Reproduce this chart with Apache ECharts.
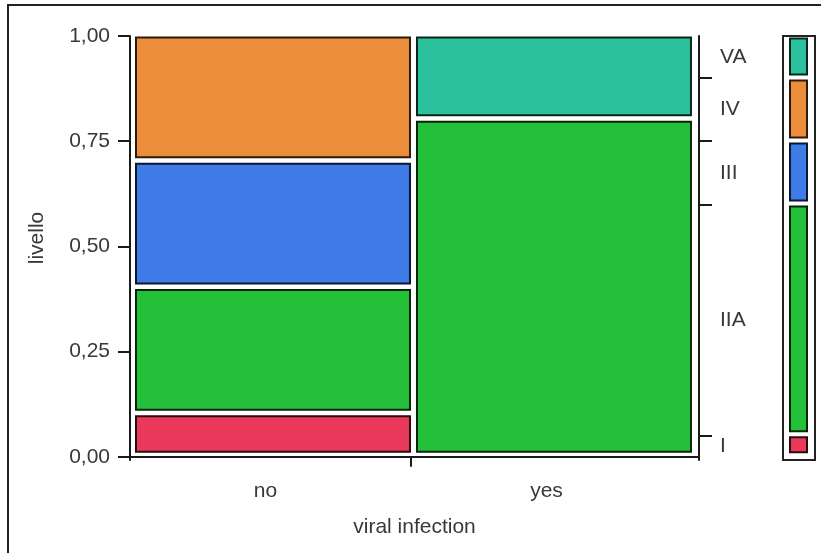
<!DOCTYPE html>
<html><head><meta charset="utf-8">
<script src="https://cdn.jsdelivr.net/npm/echarts@6/dist/echarts.min.js"></script>
<style>html,body{margin:0;padding:0;background:#fff}#c{width:821px;height:553px}</style>
</head><body><div id="c"></div>
<script>
// ---- data ----
const categories = ['no', 'yes'];
const levels = ['I', 'IIA', 'III', 'IV', 'VA'];
const groupShare = [0.5, 0.5];
const noShares = [0.10, 0.30, 0.30, 0.30, 0.00];
const yesShares = [0.00, 0.80, 0.00, 0.00, 0.20];
const yTicks = [0, 0.25, 0.5, 0.75, 1];
const xAxisTitle = 'viral infection';
const yAxisTitle = 'livello';

// ---- styles ----
const levelColors = ['#EA3A5C', '#25C03A', '#3E7BE6', '#EC8D3B', '#2BC29D'];
const levelBorders = ['#2a0a10', '#06240a', '#0a172c', '#2d1a0b', '#08251d'];
const FONT = "'Liberation Sans', Arial, sans-serif";
const TXT = '#383838';
const LINE = '#1a1a1a';
const FS = 21;

// ---- derived ----
const shares = [noShares, yesShares];
const cells = [];
const xCenters = [];
let xs = 0;
categories.forEach((c, ci) => {
  const x0 = xs, x1 = xs + groupShare[ci];
  xCenters.push((x0 + x1) / 2);
  let ys = 0;
  shares[ci].forEach((s, li) => {
    if (s > 0) cells.push([x0, x1, ys, ys + s, li]);
    ys += s;
  });
  xs = x1;
});
const xDividers = [];
{ let a = 0; groupShare.slice(0, -1).forEach(g => { a += g; xDividers.push(a); }); }
const marginal = levels.map((_, li) => categories.reduce((a, _c, ci) => a + groupShare[ci] * shares[ci][li], 0));
const cum = []; { let acc = 0; marginal.forEach(m => { cum.push([acc, acc + m]); acc += m; }); }
const legendCells = cum.map((r, li) => [0, 1, r[0], r[1], li]);
const rightTicks = cum.slice(0, -1).map(r => r[1]);
const rightLabelPos = cum.map(r => (r[0] + r[1]) / 2);

function nearestIdx(arr, v) {
  let bi = 0, bd = Infinity;
  arr.forEach((a, i) => { const d = Math.abs(a - v); if (d < bd) { bd = d; bi = i; } });
  return bi;
}

function makeRender(xLow, xHigh, yLow, yHigh) {
  return function (params, api) {
    const p0 = api.coord([api.value(0), api.value(2)]);
    const p1 = api.coord([api.value(1), api.value(3)]);
    const li = api.value(4);
    const x = p0[0] + xLow, xr = p1[0] - xHigh;
    const yt = p1[1] + yHigh, yb = p0[1] - yLow;
    return {
      type: 'rect',
      shape: { x: x, y: yt, width: xr - x, height: yb - yt },
      style: { fill: levelColors[li], stroke: levelBorders[li], lineWidth: 2 }
    };
  };
}

const chart = echarts.init(document.getElementById('c'), null, { renderer: 'canvas' });
chart.setOption({
  animation: false,
  backgroundColor: '#fff',
  textStyle: { fontFamily: FONT },
  graphic: [{
    type: 'rect', silent: true, z: -10,
    shape: { x: 8, y: 5, width: 900, height: 700 },
    style: { fill: 'none', stroke: '#222', lineWidth: 2 }
  }],
  grid: [
    { left: 130, top: 36, width: 569, height: 424 },
    { left: 783, top: 36, width: 32, height: 424, show: true, borderColor: '#222', borderWidth: 2, backgroundColor: 'transparent' }
  ],
  xAxis: [
    {
      type: 'value', gridIndex: 0, min: 0, max: 1.0125,
      axisLine: { show: true, lineStyle: { color: LINE, width: 2 } },
      axisTick: { show: true, customValues: xDividers, length: 10, lineStyle: { color: LINE, width: 2 } },
      axisLabel: {
        show: true, customValues: xCenters, margin: 21, fontSize: FS, color: TXT, fontFamily: FONT,
        padding: [0, 10, 0, 0],
        formatter: v => categories[nearestIdx(xCenters, v)]
      },
      splitLine: { show: false },
      name: xAxisTitle, nameLocation: 'middle', nameGap: 57,
      nameTextStyle: { fontSize: FS, color: TXT, fontFamily: FONT }
    },
    { type: 'value', gridIndex: 1, min: 0, max: 1, show: false, splitLine: { show: false } }
  ],
  yAxis: [
    {
      type: 'value', gridIndex: 0, position: 'left', min: -0.0075, max: 1,
      axisLine: { show: true, lineStyle: { color: LINE, width: 2 } },
      axisTick: { show: true, customValues: yTicks, length: 12, lineStyle: { color: LINE, width: 2 } },
      axisLabel: {
        show: true, customValues: yTicks, margin: 20, fontSize: FS, color: TXT, fontFamily: FONT,
        formatter: v => v.toFixed(2).replace('.', ',')
      },
      splitLine: { show: false },
      name: yAxisTitle, nameLocation: 'middle', nameGap: 82, nameRotate: 90,
      nameTextStyle: { fontSize: FS, color: TXT, fontFamily: FONT, padding: [0, 0, 0, 20] }
    },
    {
      type: 'value', gridIndex: 0, position: 'right', min: -0.0075, max: 1,
      axisLine: { show: true, lineStyle: { color: LINE, width: 2 } },
      axisTick: { show: true, customValues: rightTicks, length: 13, lineStyle: { color: LINE, width: 2 } },
      axisLabel: {
        show: true, customValues: rightLabelPos, margin: 21, fontSize: FS, color: TXT, fontFamily: FONT,
        formatter: v => levels[nearestIdx(rightLabelPos, v)]
      },
      splitLine: { show: false }
    },
    { type: 'value', gridIndex: 1, min: -0.01, max: 1, show: false, splitLine: { show: false } }
  ],
  series: [
    {
      type: 'custom', xAxisIndex: 0, yAxisIndex: 0,
      renderItem: makeRender(6, 1, 5, 1.5),
      encode: { x: [0, 1], y: [2, 3] },
      data: cells
    },
    {
      type: 'custom', xAxisIndex: 1, yAxisIndex: 2,
      renderItem: makeRender(7, 8, 3.5, 2.5),
      encode: { x: [0, 1], y: [2, 3] },
      data: legendCells
    }
  ]
});
</script>
</body></html>
